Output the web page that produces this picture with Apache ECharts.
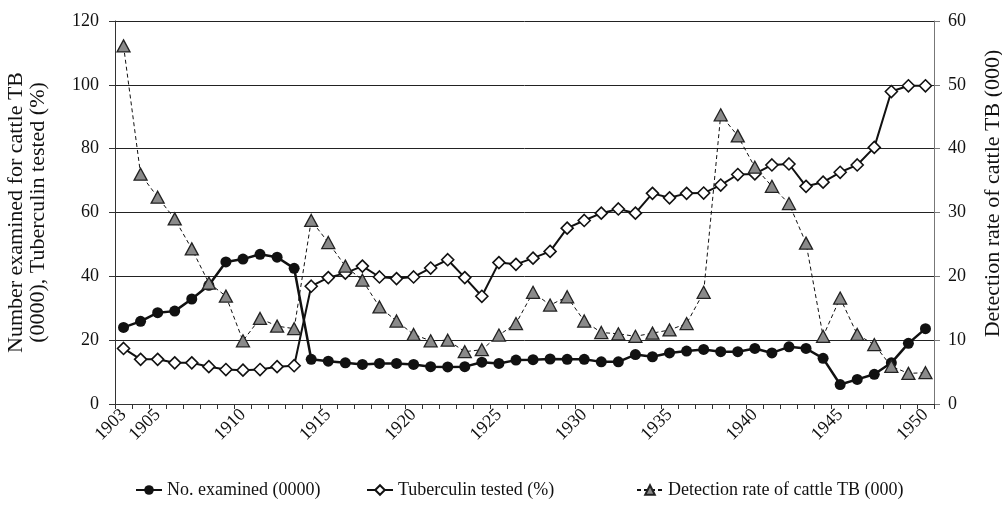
<!DOCTYPE html>
<html>
<head>
<meta charset="utf-8">
<script src="https://cdn.jsdelivr.net/npm/echarts@6/dist/echarts.min.js"></script>
<style>html,body{margin:0;padding:0;background:#fff;}#c{width:1002px;height:512px;}</style>
</head>
<body>
<div id="c"></div>
<script>
const years = [];
for (let y = 1903; y <= 1950; y++) years.push(String(y));
const labeledYears = ['1903','1905','1910','1915','1920','1925','1930','1935','1940','1945','1950'];

const examined = [24.0, 25.9, 28.6, 29.1, 32.9, 37.2, 44.5, 45.4, 46.9, 46.0, 42.5,
  14.0, 13.4, 12.9, 12.4, 12.7, 12.7, 12.4, 11.7, 11.6, 11.7,
  13.1, 12.7, 13.75, 13.9, 14.1, 14.0, 14.0, 13.2, 13.2, 15.5,
  14.8, 16.0, 16.6, 17.1, 16.4, 16.4, 17.4, 16.0, 17.9, 17.4,
  14.3, 6.1, 7.7, 9.3, 12.9, 19.0, 23.6];

const tested = [17.4, 14.0, 14.0, 12.9, 12.9, 11.7, 10.8, 10.6, 10.8, 11.7, 12.0,
  36.9, 39.6, 41.0, 43.2, 39.8, 39.3, 39.8, 42.6, 45.2, 39.6,
  33.75, 44.3, 43.75, 45.7, 47.8, 55.1, 57.5, 59.8, 61.1, 59.8,
  66.0, 64.6, 66.0, 66.1, 68.6, 71.9, 72.1, 74.9, 75.2, 68.2,
  69.5, 72.6, 74.9, 80.4, 97.9, 99.7, 99.7];

const detection = [56.1, 36.0, 32.4, 29.0, 24.3, 18.95, 16.9, 9.9, 13.4, 12.2, 11.8,
  28.75, 25.3, 21.6, 19.4, 15.2, 13.0, 10.9, 9.9, 10.0, 8.2,
  8.5, 10.8, 12.6, 17.5, 15.5, 16.8, 13.0, 11.2, 11.0, 10.6,
  11.1, 11.6, 12.6, 17.5, 45.3, 42.0, 37.1, 34.1, 31.4, 25.2,
  10.6, 16.6, 10.9, 9.3, 5.9, 4.8, 4.9];

const seriesNames = ['No. examined (0000)', 'Tuberculin tested (%)', 'Detection rate of cattle TB (000)'];
const leftName = 'Number examined for cattle TB\n(0000), Tuberculin tested (%)';
const rightName = 'Detection rate of cattle TB (000)';

const FONT = '"Liberation Serif", "Times New Roman", serif';
const legendLefts = [130, 361, 631];
const legends = seriesNames.map(function (n, i) {
  return {
    bottom: 8, left: legendLefts[i],
    itemWidth: 26, itemHeight: 12, itemGap: 5,
    textStyle: {fontFamily: FONT, fontSize: 18, color: '#111'},
    data: [n]
  };
});

const chart = echarts.init(document.getElementById('c'), null, {renderer: 'canvas'});
chart.setOption({
  animation: false,
  backgroundColor: '#fff',
  textStyle: {fontFamily: FONT, color: '#111'},
  grid: {left: 115, right: 68, top: 21, bottom: 108, containLabel: false, outerBoundsMode: 'none'},
  legend: legends,
  xAxis: {
    type: 'category',
    data: years,
    boundaryGap: true,
    axisLine: {lineStyle: {color: '#333', width: 1}},
    axisTick: {show: true, interval: 0, length: 5, lineStyle: {color: '#333'}},
    axisLabel: {
      interval: function (idx, val) { return labeledYears.indexOf(val) >= 0; },
      rotate: 45, margin: 8,
      fontFamily: FONT, fontSize: 18, color: '#111'
    },
    splitLine: {show: false}
  },
  yAxis: [
    {
      type: 'value', min: 0, max: 120, interval: 20, position: 'left',
      name: leftName, nameLocation: 'middle', nameGap: 66, nameRotate: 90,
      nameTextStyle: {fontFamily: FONT, fontSize: 22, color: '#111', lineHeight: 22},
      axisLine: {show: true, lineStyle: {color: '#333', width: 1}},
      axisTick: {show: true, length: 6, lineStyle: {color: '#333'}},
      axisLabel: {margin: 16, fontFamily: FONT, fontSize: 18, color: '#111'},
      splitLine: {show: true, lineStyle: {color: '#222', width: 1}}
    },
    {
      type: 'value', min: 0, max: 60, interval: 10, position: 'right',
      name: rightName, nameLocation: 'middle', nameGap: 48, nameRotate: 90,
      nameTextStyle: {fontFamily: FONT, fontSize: 22, color: '#111', padding: [0, 0, 0, 38]},
      axisLine: {show: true, lineStyle: {color: '#777', width: 1}},
      axisTick: {show: true, length: 6, lineStyle: {color: '#777'}},
      axisLabel: {margin: 14, fontFamily: FONT, fontSize: 18, color: '#111'},
      splitLine: {show: false}
    }
  ],
  series: [
    {
      name: seriesNames[0], type: 'line', yAxisIndex: 0, data: examined,
      symbol: 'circle', symbolSize: 11, showAllSymbol: true,
      lineStyle: {color: '#111', width: 2.5},
      itemStyle: {color: '#111', borderColor: '#111', borderWidth: 0},
      z: 2
    },
    {
      name: seriesNames[1], type: 'line', yAxisIndex: 0, data: tested,
      symbol: 'diamond', symbolSize: 12, showAllSymbol: true,
      lineStyle: {color: '#111', width: 2},
      itemStyle: {color: '#fff', borderColor: '#111', borderWidth: 1.6},
      z: 3
    },
    {
      name: seriesNames[2], type: 'line', yAxisIndex: 1, data: detection,
      symbol: 'triangle', symbolSize: [13, 12], showAllSymbol: true,
      lineStyle: {color: '#111', width: 1, type: [4, 3]},
      itemStyle: {color: '#8a8a8a', borderColor: '#222', borderWidth: 1.3},
      z: 4
    }
  ]
});
</script>
</body>
</html>
